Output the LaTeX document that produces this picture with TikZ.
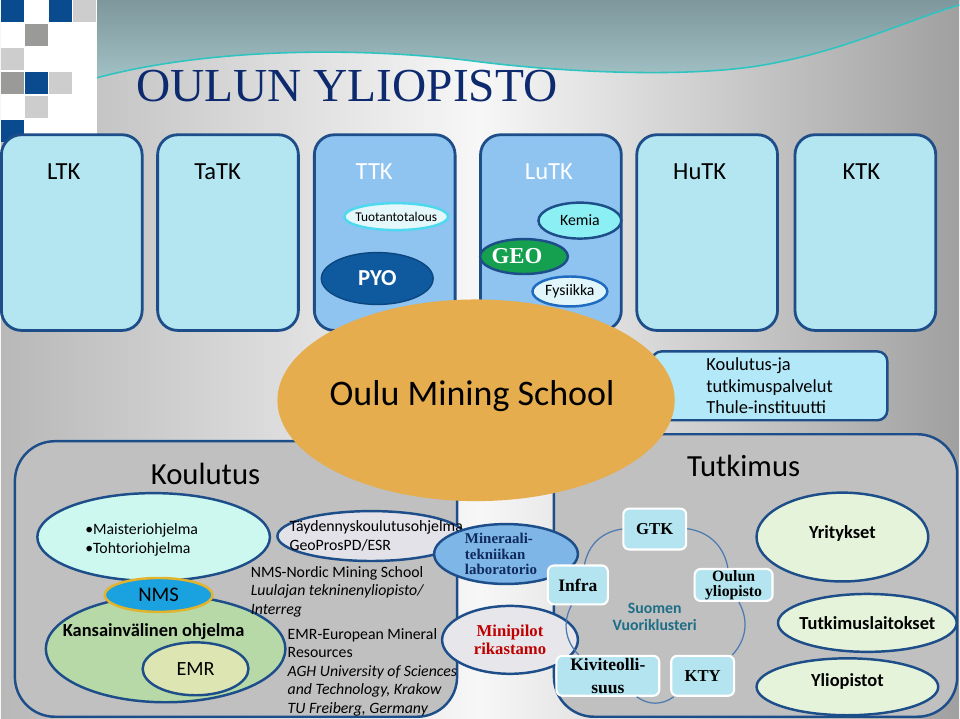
\documentclass[tikz,border=0pt]{standalone}
\usepackage{fontspec}
\setmainfont{Carlito}
\newfontfamily\cambria{Liberation Serif}
\usepackage{xcolor}
\usepackage{tikz}
\usetikzlibrary{positioning}
\usetikzlibrary{shapes.geometric}

\definecolor{rajasin}{HTML}{1D4E89}
\definecolor{vaaleasin}{HTML}{B4E6F2}
\definecolor{keskisin}{HTML}{8FC3F0}
\definecolor{oranssi}{HTML}{E6AD4E}
\definecolor{otsikkosin}{HTML}{0E2A6E}
\definecolor{harmaa}{HTML}{C0C0C0}
\definecolor{vasentausta}{HTML}{B8B8B8}
\definecolor{keskitausta}{HTML}{F7F7F7}
\definecolor{oikeatausta}{HTML}{A0A0A0}
\definecolor{aaltoyla}{HTML}{7E979C}
\definecolor{aaltoala}{HTML}{A2C2C6}
\definecolor{aalto}{HTML}{2EC4C0}
\definecolor{ruutusin}{HTML}{0A4A8F}
\definecolor{ruutuharmaa}{HTML}{9A9A98}
\definecolor{ruutuvaalea}{HTML}{CDCDCD}
\definecolor{tuotanto}{HTML}{E4F7FA}
\definecolor{tuotantoreuna}{HTML}{4DD9EE}
\definecolor{pyosin}{HTML}{0F5A9E}
\definecolor{pyoreuna}{HTML}{0B4680}
\definecolor{kemia}{HTML}{8CEFF4}
\definecolor{geovihrea}{HTML}{14A04E}
\definecolor{fysiikka}{HTML}{E0F6FA}
\definecolor{fysreuna}{HTML}{1E6BC0}
\definecolor{palvelusin}{HTML}{B3E8F8}
\definecolor{minttu}{HTML}{CDF8F0}
\definecolor{lehti}{HTML}{B6D9A7}
\definecolor{oljy}{HTML}{DDE6B3}
\definecolor{kulta}{HTML}{E2B32B}
\definecolor{nmssin}{HTML}{1AA1E0}
\definecolor{taydennys}{HTML}{E2E2E8}
\definecolor{mineraali}{HTML}{7EB6E8}
\definecolor{mineraaliteksti}{HTML}{102A5C}
\definecolor{minipilot}{HTML}{E6E6EB}
\definecolor{punainen}{HTML}{C00000}
\definecolor{kivisin}{HTML}{B3E4EF}
\definecolor{kaarisin}{HTML}{4A7AB0}
\definecolor{klusteriteksti}{HTML}{1E6E86}
\definecolor{vaaleavihr}{HTML}{E5F3DA}

\begin{document}
\begin{tikzpicture}[x=0.2mm,y=-0.2mm]
        \tikzstyle{every node}=[inner sep=0pt]
        \tikzstyle{tiedekunta}=[draw=rajasin,line width=1.6pt,rounded corners=4mm,minimum width=28.2mm,minimum height=39.2mm]
        \tikzstyle{tdkotsikko}=[font=\fontsize{14}{16}\selectfont]
        \tikzstyle{soikio}=[ellipse,draw=rajasin,line width=1.4pt]
        \tikzstyle{iso}=[draw=rajasin,line width=1.4pt,rounded corners=8mm,fill=harmaa]
        \tikzstyle{klusteri}=[draw=white,line width=1.2pt,rounded corners=1.2mm,fill=kivisin,align=center,font=\cambria\bfseries\fontsize{9.5}{10}\selectfont]
        \tikzstyle{teksti}=[align=left,anchor=north west,font=\fontsize{9}{10.6}\selectfont]
        \tikzstyle{kaari}=[kaarisin,line width=0.7pt]
        \tikzstyle{kohde}=[soikio,fill=vaaleavihr]
        \tikzstyle{kohdeteksti}=[font=\bfseries\fontsize{10.5}{12}\selectfont]

        % tausta
        \shade[left color=vasentausta,right color=keskitausta] (0,0) rectangle (480,720);
        \shade[left color=keskitausta,right color=oikeatausta] (480,0) rectangle (960,720);
        \shade[top color=aaltoyla,bottom color=aaltoala] (96,0) -- (96,78) .. controls (200,50) and (350,45) .. (480,62) .. controls (560,72) and (700,80) .. (780,62) .. controls (850,48) and (910,20) .. (960,5) -- (960,0) -- cycle;
        \draw[aalto,line width=0.9pt] (96,78) .. controls (200,50) and (350,45) .. (480,62) .. controls (560,72) and (700,80) .. (780,62) .. controls (850,48) and (910,20) .. (960,5);
        \fill[white] (0,0) rectangle (96,135);
        \foreach \i/\j/\vari in {0/0/ruutusin,2/0/ruutusin,3/0/ruutuvaalea,1/1/ruutuharmaa,0/2/ruutuvaalea,0/3/ruutuharmaa,1/3/ruutusin,2/3/ruutuvaalea,1/4/ruutuvaalea,0/5/ruutusin}
          \fill[\vari] (24*\i,24*\j) rectangle ++(23,22);
        \node[anchor=base west,text=otsikkosin,font=\cambria\fontsize{27}{30}\selectfont] (otsikko) at (135,102) {OULUN YLIOPISTO};

        % tiedekunnat
        \foreach \nimi/\x/\vari in {ltk/71/vaaleasin,tatk/227.5/vaaleasin,ttk/384.5/keskisin,lutk/551/keskisin,hutk/707.5/vaaleasin,ktk/866/vaaleasin}
          \node[tiedekunta,fill=\vari] (\nimi) at (\x,233) {};
        \node[tdkotsikko] (ltkotsikko) at (63,172) {LTK};
        \node[tdkotsikko] (tatkotsikko) at (217,172) {TaTK};
        \node[tdkotsikko,text=white] (ttkotsikko) at (374,172) {TTK};
        \node[tdkotsikko,text=white] (lutkotsikko) at (549,172) {LuTK};
        \node[tdkotsikko] (hutkotsikko) at (700,172) {HuTK};
        \node[tdkotsikko] (ktkotsikko) at (862,172) {KTK};
        \node[soikio,draw=tuotantoreuna,fill=tuotanto,minimum width=20.8mm,minimum height=5.4mm,label={[font=\fontsize{7.6}{9}\selectfont]center:Tuotantotalous}] (tuotanto) at (396,217) {};
        \node[soikio,draw=pyoreuna,line width=0.8pt,fill=pyosin,minimum width=22.4mm,minimum height=10.4mm,text=white,font=\bfseries\fontsize{13}{15}\selectfont] (pyo) at (377,279) {PYO};
        \node[soikio,fill=kemia,minimum width=16.6mm,minimum height=7.2mm,font=\fontsize{9}{11}\selectfont] (kemia) at (580,221) {Kemia};
        \node[soikio,fill=geovihrea,minimum width=17.6mm,minimum height=7mm,label={[xshift=-1.4mm,text=white,font=\cambria\bfseries\fontsize{13}{15}\selectfont]center:GEO}] (geo) at (524,257) {};
        \node[soikio,draw=fysreuna,fill=fysiikka,minimum width=15mm,minimum height=6mm,font=\fontsize{9}{11}\selectfont] (fysiikka) at (570,292) {Fysiikka};

        \node[draw=rajasin,line width=1.4pt,rounded corners=2mm,fill=palvelusin,minimum width=47.2mm,minimum height=13.8mm,align=left,font=\fontsize{10.5}{12.3}\selectfont] (palvelut) at (770,386.5) {Koulutus-ja\\tutkimuspalvelut\\Thule-instituutti};

        \node[iso,minimum width=88.6mm,minimum height=55.2mm] (koulutus) at (235.5,580) {};
        \node[iso,minimum width=80.8mm,minimum height=56.6mm] (tutkimus) at (756,576.5) {};
        \node[font=\fontsize{17.5}{20}\selectfont] (koulutusotsikko) at (205,475) {Koulutus};
        \node[font=\fontsize{17.5}{20}\selectfont] (tutkimusotsikko) at (744,467) {Tutkimus};

        \node[ellipse,fill=oranssi,minimum width=79.6mm,minimum height=40.4mm,label={[xshift=-0.8mm,yshift=0.8mm,font=\fontsize{20.5}{24}\selectfont]center:Oulu Mining School}] (oms) at (476,401) {};

        % koulutus
        \node[soikio,fill=minttu,minimum width=46.6mm,minimum height=17.6mm,label={[xshift=-2.4mm,yshift=-0.6mm,align=left,font=\fontsize{9}{10.8}\selectfont]center:{•Maisteriohjelma\\•Tohtoriohjelma}}] (maisteri) at (153,538) {};
        \node[soikio,fill=lehti,minimum width=48mm,minimum height=21.4mm,label={[xshift=-2.4mm,yshift=3.4mm,font=\bfseries\fontsize{10.5}{12}\selectfont]center:Kansainvälinen ohjelma}] (kansainv) at (165,650) {};
        \node[soikio,fill=oljy,minimum width=21.2mm,minimum height=10.6mm,font=\fontsize{11.5}{13}\selectfont] (emr) at (195,670) {EMR};
        \node[soikio,draw=kulta,fill=nmssin,minimum width=21.6mm,minimum height=6.8mm,font=\fontsize{11.8}{14}\selectfont] (nms) at (158,596) {NMS};
        \node[soikio,fill=taydennys,minimum width=37.6mm,minimum height=10mm,label={[xshift=1mm,align=left,font=\fontsize{9}{10.6}\selectfont]center:{Täydennyskoulutusohjelma\\GeoProsPD/ESR}}] (taydennys) at (371,537) {};
        \node[teksti] (nmsteksti) at (250,567) {NMS-Nordic Mining School\\\textit{Luulajan tekninenyliopisto/}\\\textit{Interreg}};
        \node[teksti] (emrteksti) at (287,629) {EMR-European Mineral\\Resources\\\textit{AGH University of Sciences}\\\textit{and Technology, Krakow}\\\textit{TU Freiberg, Germany}};

        \node[soikio,fill=mineraali,minimum width=28.8mm,minimum height=12mm,label={[xshift=-1mm,align=left,text=mineraaliteksti,font=\cambria\bfseries\fontsize{8.5}{8.8}\selectfont]center:{Mineraali-\\tekniikan\\laboratorio}}] (mineraali) at (506,555) {};
        \node[soikio,fill=minipilot,minimum width=27.2mm,minimum height=13.6mm,label={[align=center,text=punainen,font=\cambria\bfseries\fontsize{9.5}{10}\selectfont]center:{Minipilot\\rikastamo}}] (minipilot) at (510,641) {};

        % tutkimus
        \node[klusteri,minimum width=12.6mm,minimum height=8.2mm] (gtk) at (655,530) {GTK};
        \node[klusteri,minimum width=15.6mm,minimum height=6.4mm,font=\cambria\bfseries\fontsize{9}{8.6}\selectfont] (oy) at (734,586) {Oulun\\yliopisto};
        \node[klusteri,minimum width=12.6mm,minimum height=8mm] (kty) at (703,677) {KTY};
        \node[klusteri,minimum width=20.6mm,minimum height=8mm,font=\cambria\bfseries\fontsize{10}{13}\selectfont] (kivi) at (608,677) {Kiviteolli-\\suus};
        \node[klusteri,minimum width=12mm,minimum height=7.8mm,font=\cambria\bfseries\fontsize{10}{12}\selectfont] (infra) at (578,586) {Infra};
        \node[align=center,text=klusteriteksti,font=\bfseries\fontsize{9}{10.2}\selectfont] (klusteri) at (655,618) {Suomen\\Vuoriklusteri};
        \draw[kaari] (gtk) to[bend left=36] (oy);
        \draw[kaari] (oy) to[bend left=36] (kty);
        \draw[kaari] (kty) to[bend left=36] (kivi);
        \draw[kaari] (kivi) to[bend left=36] (infra);
        \draw[kaari] (infra) to[bend left=36] (gtk);

        \node[kohde,minimum width=34.4mm,minimum height=17.8mm,label={[yshift=0.8mm,kohdeteksti]center:Yritykset}] (yritykset) at (843,538) {};
        \node[kohde,minimum width=35.8mm,minimum height=11.6mm,label={[kohdeteksti]center:Tutkimuslaitokset}] (laitokset) at (868,624) {};
        \node[kohde,minimum width=36.4mm,minimum height=11.4mm,label={[yshift=1mm,kohdeteksti]center:Yliopistot}] (yliopistot) at (848,688) {};
\end{tikzpicture}
\end{document}
